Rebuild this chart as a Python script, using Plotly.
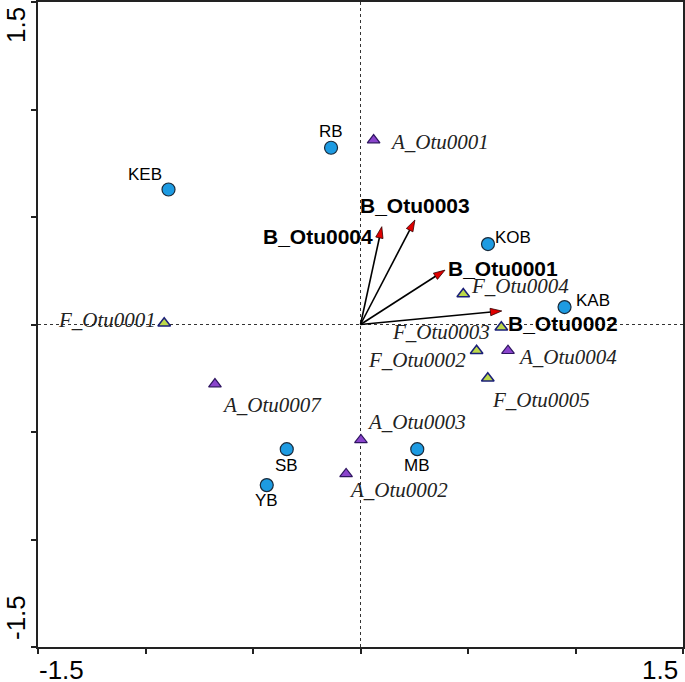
import plotly.graph_objects as go

# ---- data ----
site_names = ["RB", "KEB", "KOB", "KAB", "SB", "YB", "MB"]
site_x = [-0.137, -0.893, 0.593, 0.949, -0.343, -0.436, 0.264]
site_y = [0.822, 0.628, 0.374, 0.081, -0.580, -0.747, -0.580]

a_names = ["A_Otu0001", "A_Otu0002", "A_Otu0003", "A_Otu0004", "A_Otu0007"]
a_x = [0.061, -0.067, 0.002, 0.686, -0.677]
a_y = [0.858, -0.695, -0.537, -0.122, -0.277]

f_names = ["F_Otu0001", "F_Otu0002", "F_Otu0003", "F_Otu0004", "F_Otu0005"]
f_x = [-0.913, 0.540, 0.655, 0.478, 0.592]
f_y = [0.006, -0.122, -0.013, 0.142, -0.250]

b_names = ["B_Otu0001", "B_Otu0002", "B_Otu0003", "B_Otu0004"]
b_x = [0.393, 0.657, 0.253, 0.099]
b_y = [0.253, 0.063, 0.486, 0.455]

axis_ticks = [-1.5, -1.0, -0.5, 0.0, 0.5, 1.0, 1.5]
end_labels = ["-1.5", "1.5"]

# ---- label offsets (pixels) ----
site_off = {"RB": (0, 16), "KEB": (-24, 15), "KOB": (25, 7), "KAB": (28, 7),
            "SB": (0, -16), "YB": (0, -15), "MB": (0, -16)}
a_off = {"A_Otu0001": (66, -2), "A_Otu0002": (52, -16), "A_Otu0003": (56, 18),
         "A_Otu0004": (60, -6), "A_Otu0007": (57, -21)}
f_off = {"F_Otu0001": (-57, 3), "F_Otu0002": (-60, -9), "F_Otu0003": (-60, -5),
         "F_Otu0004": (57, 8), "F_Otu0005": (53, -22)}
b_off = {"B_Otu0001": (58, 2), "B_Otu0002": (61, -13), "B_Otu0003": (0, 15),
         "B_Otu0004": (-64, -10)}

fig = go.Figure()

# arrows
for n, x, y in zip(b_names, b_x, b_y):
    fig.add_trace(go.Scatter(
        x=[0, x], y=[0, y], mode="lines+markers",
        line=dict(color="black", width=1.6),
        marker=dict(symbol=["circle", "arrow"], size=[0, 12], angleref="previous",
                    color="#e00000", opacity=1, line=dict(color="#300000", width=0.8)),
        hoverinfo="skip", showlegend=False))

fig.add_trace(go.Scatter(
    x=site_x, y=site_y, mode="markers",
    marker=dict(symbol="circle", size=13, color="#1d9be2",
                line=dict(color="#1a2a3a", width=1.2)),
    showlegend=False))

fig.add_trace(go.Scatter(
    x=a_x, y=a_y, mode="markers",
    marker=dict(symbol="triangle-up", size=11, color="#8a44cc",
                line=dict(color="#2e1560", width=1.2)),
    showlegend=False))

fig.add_trace(go.Scatter(
    x=f_x, y=f_y, mode="markers",
    marker=dict(symbol="triangle-up", size=11, color="#bcd84a",
                line=dict(color="#1a1f78", width=1.5)),
    showlegend=False))

ann = []
sans = "Liberation Sans, Arial, sans-serif"
serif = "Liberation Serif, Times New Roman, serif"
for n, x, y in zip(site_names, site_x, site_y):
    dx, dy = site_off[n]
    ann.append(dict(x=x, y=y, text=n, showarrow=False, xshift=dx, yshift=dy,
                    font=dict(family=sans, size=17, color="black")))
for names, xs, ys, off in ((a_names, a_x, a_y, a_off), (f_names, f_x, f_y, f_off)):
    for n, x, y in zip(names, xs, ys):
        dx, dy = off[n]
        ann.append(dict(x=x, y=y, text=n, showarrow=False, xshift=dx, yshift=dy,
                        font=dict(family=serif, size=21, color="#222", style="italic")))
for n, x, y in zip(b_names, b_x, b_y):
    dx, dy = b_off[n]
    ann.append(dict(x=x, y=y, text=n, showarrow=False, xshift=dx, yshift=dy,
                    font=dict(family=sans, size=21, color="black", weight="bold")))

# axis end labels
tick_font = dict(family=sans, size=26, color="black")
ann.append(dict(x=axis_ticks[0], y=0, xref="x", yref="paper", text=end_labels[0],
                showarrow=False, xanchor="center", yanchor="middle",
                xshift=23, yshift=-23, font=tick_font))
ann.append(dict(x=axis_ticks[-1], y=0, xref="x", yref="paper", text=end_labels[1],
                showarrow=False, xanchor="center", yanchor="middle",
                xshift=-23, yshift=-23, font=tick_font))
ann.append(dict(x=0, y=axis_ticks[-1], xref="paper", yref="y", text=end_labels[1],
                showarrow=False, xanchor="center", yanchor="middle", textangle=-90,
                xshift=-22, yshift=-23, font=tick_font))
ann.append(dict(x=0, y=axis_ticks[0], xref="paper", yref="y", text=end_labels[0],
                showarrow=False, xanchor="center", yanchor="middle", textangle=-90,
                xshift=-22, yshift=29, font=tick_font))

shapes = [
    dict(type="line", xref="x", yref="y", x0=0, x1=0, y0=-1.5, y1=1.5,
         line=dict(color="#333", width=1, dash="dot"), layer="below"),
    dict(type="line", xref="x", yref="y", x0=-1.5, x1=1.5, y0=0, y1=0,
         line=dict(color="#333", width=1, dash="dot"), layer="below"),
]

axis_common = dict(range=[-1.5, 1.5], showgrid=False, zeroline=False,
                   showline=True, linecolor="#222", linewidth=2, mirror=True,
                   ticks="outside", ticklen=5, tickwidth=1.5, tickcolor="#222",
                   tickvals=axis_ticks, ticktext=[""] * len(axis_ticks),
                   automargin=False, fixedrange=True)

fig.update_layout(
    width=685, height=682,
    margin=dict(l=38, r=2, t=2, b=35),
    plot_bgcolor="white", paper_bgcolor="white",
    xaxis=axis_common, yaxis=axis_common,
    annotations=ann, shapes=shapes,
    showlegend=False,
)

fig.write_html("out.html", config={"displayModeBar": False},
               post_script="document.body.style.margin='0px';document.body.style.overflow='hidden';")
